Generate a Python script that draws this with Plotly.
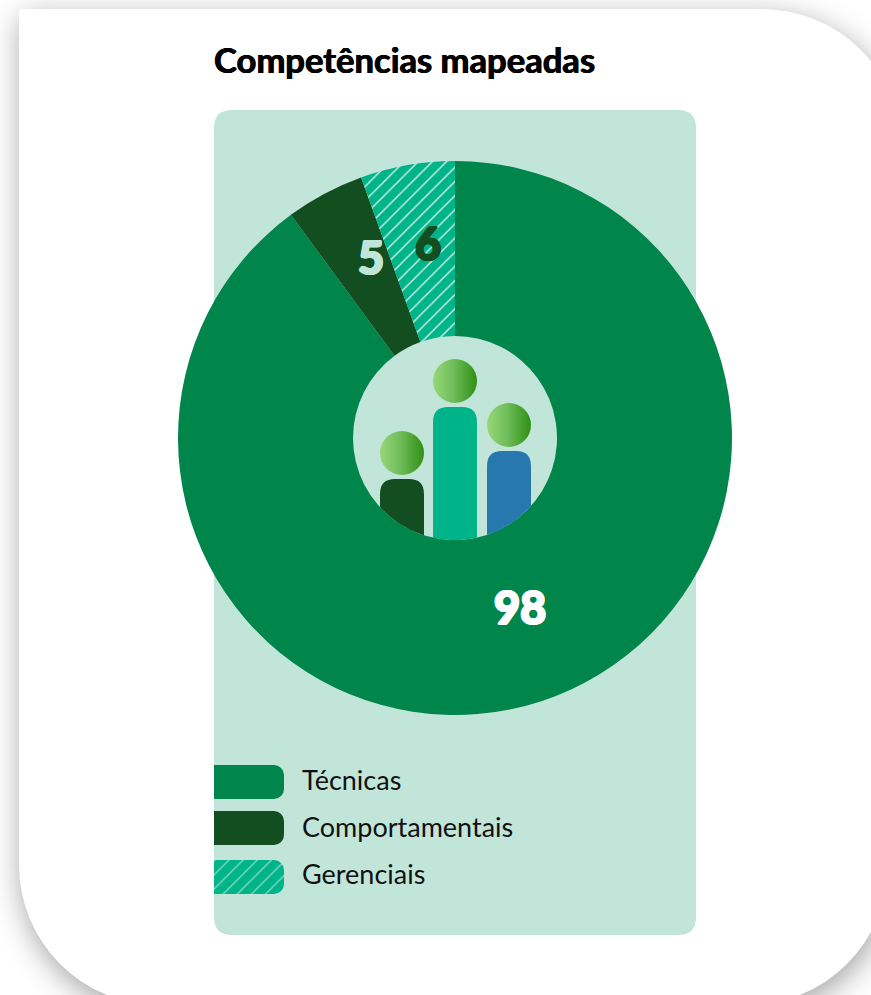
import base64
import numpy as np
import plotly.graph_objects as go

W, H = 871, 995

# Data
categories = ["Técnicas", "Comportamentais", "Gerenciais"]
values = [98, 5, 6]
title_text = "Competências mapeadas"

# Style
GREEN = "#00854a"
DARK = "#124e1f"
TEAL = "#00b48a"
PANEL = "#c2e5da"
HATCH = "#d3efe6"
BLUE = "#2878b0"
FONT = "Lato"
CX, CY, R, R_HOLE = 455, 438, 277, 102


def svg_uri(svg):
    return "data:image/svg+xml;base64," + base64.b64encode(svg.encode()).decode()


card_path = "M22,9 H762 A140,140 0 0 1 902,149 L888,865 A140,140 0 0 1 748,1005 H159 A140,140 0 0 1 19,865 V12 A3,3 0 0 1 22,9 Z"
background_svg = f"""<svg xmlns="http://www.w3.org/2000/svg" width="{W}" height="{H}" viewBox="0 0 {W} {H}">
<defs><filter id="s" x="-20%" y="-20%" width="140%" height="140%"><feGaussianBlur stdDeviation="15"/></filter></defs>
<rect width="{W}" height="{H}" fill="#ffffff"/>
<path d="{card_path}" transform="translate(2,8)" fill="#000000" fill-opacity="0.36" filter="url(#s)"/>
<path d="{card_path}" fill="#ffffff"/>
</svg>"""

heads = [(402, 453), (455, 381), (509, 425)]
circles = "".join(f'<circle cx="{x}" cy="{y}" r="22" fill="url(#g)"/>' for x, y in heads)
heads_svg = f"""<svg xmlns="http://www.w3.org/2000/svg" width="{W}" height="{H}" viewBox="0 0 {W} {H}">
<defs><linearGradient id="g" x1="0" x2="1" y1="0" y2="0"><stop offset="0" stop-color="#97d878"/><stop offset="0.45" stop-color="#70bd5c"/><stop offset="1" stop-color="#2f9012"/></linearGradient></defs>
{circles}</svg>"""


def body_path(x0, x1, top, r=15):
    xs = np.linspace(x1, x0, 30)
    ys = CY + np.sqrt(R_HOLE**2 - (xs - CX) ** 2)
    bottom = " ".join(f"L{x:.1f},{y:.1f}" for x, y in zip(xs, ys))
    return f"M{x0},{top + r} Q{x0},{top} {x0 + r},{top} L{x1 - r},{top} Q{x1},{top} {x1},{top + r} {bottom} Z"


shapes = [
    dict(type="path", layer="below", xref="x", yref="y", line_width=0, fillcolor=PANEL,
         path="M232,110 H678 Q696,110 696,128 V917 Q696,935 678,935 H232 Q214,935 214,917 V128 Q214,110 232,110 Z"),
]
for (x0, x1, top, col) in [(380, 424, 479, DARK), (433, 477, 407, TEAL), (487, 531, 451, BLUE)]:
    shapes.append(dict(type="path", layer="above", xref="x", yref="y", line_width=0,
                       fillcolor=col, path=body_path(x0, x1, top)))

fig = go.Figure()

swatch_y = [782, 828, 877]
hatch = dict(shape=["", "", "/"], fgcolor=HATCH, size=10, solidity=0.14)
# rounded right part of each legend swatch
fig.add_trace(go.Bar(
    x=[50, 50, 50], y=swatch_y, base=234, orientation="h", width=34,
    marker=dict(color=[GREEN, DARK, TEAL], line_width=0, pattern=hatch, cornerradius=10),
    hoverinfo="skip", showlegend=False,
))
# flat left part of each legend swatch
fig.add_trace(go.Bar(
    x=[40, 40, 40], y=swatch_y, base=214, orientation="h", width=34,
    marker=dict(color=[GREEN, DARK, TEAL], line_width=0, pattern=hatch),
    hoverinfo="skip", showlegend=False,
))

fig.add_trace(go.Pie(
    labels=categories, values=values, sort=False, direction="clockwise", rotation=0,
    hole=R_HOLE / R, textinfo="none", hoverinfo="label+value", showlegend=False,
    domain=dict(x=[(CX - R) / W, (CX + R) / W], y=[(H - CY - R) / H, (H - CY + R) / H]),
    marker=dict(colors=[GREEN, DARK, TEAL], line_width=0,
                pattern=dict(shape=["", "", "/"], fgcolor=HATCH, bgcolor=TEAL, size=10, solidity=0.14, fillmode="replace")),
))

annotations = [
    dict(x=212, y=59, text=f"<b>{title_text}</b>", xanchor="left",
         font=dict(size=34.6, color="#000000", family=FONT, weight=900,
                   shadow="0.5px 0 0 #000, -0.5px 0 0 #000")),
]
for cat, yy in zip(categories, [779, 826, 873]):
    annotations.append(dict(x=300, y=yy, text=cat, xanchor="left", font=dict(size=27, color="#111111", family=FONT)))
for val, (xx, yy), col in zip(values, [(520, 607), (371, 257), (428, 243)], ["#ffffff", PANEL, DARK]):
    stroke = ", ".join(f"{dx}px {dy}px 0 {col}" for dx, dy in [(1.2, 0), (-1.2, 0), (0, 0.8), (0, -0.8), (0.9, 0.6), (-0.9, -0.6), (0.9, -0.6), (-0.9, 0.6)])
    annotations.append(dict(x=xx, y=yy, text=f"<b>{val}</b>", xanchor="center",
                            font=dict(size=45, color=col, family=FONT, weight=900, shadow=stroke)))
for a in annotations:
    a.update(xref="x", yref="y", showarrow=False, yanchor="middle")

fig.update_layout(
    width=W, height=H, autosize=False, margin=dict(l=0, r=0, t=0, b=0),
    paper_bgcolor="#ffffff", plot_bgcolor="rgba(0,0,0,0)", barmode="overlay",
    xaxis=dict(range=[0, W], visible=False, fixedrange=True),
    yaxis=dict(range=[H, 0], visible=False, fixedrange=True),
    shapes=shapes, annotations=annotations,
    images=[
        dict(source=svg_uri(background_svg), xref="paper", yref="paper", x=0, y=1, sizex=1, sizey=1,
             sizing="stretch", xanchor="left", yanchor="top", layer="below"),
        dict(source=svg_uri(heads_svg), xref="paper", yref="paper", x=0, y=1, sizex=1, sizey=1,
             sizing="stretch", xanchor="left", yanchor="top", layer="above"),
    ],
)

fig.write_html("out.html", config=dict(displayModeBar=False),
               post_script="document.body.style.margin='0';document.body.style.overflow='hidden';")
